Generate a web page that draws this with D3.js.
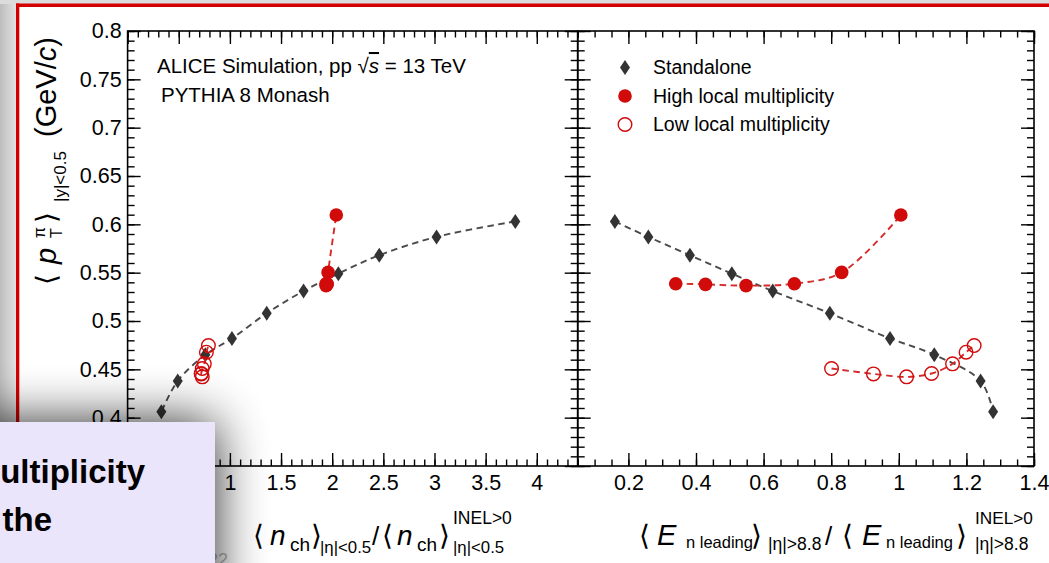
<!DOCTYPE html>
<html><head><meta charset="utf-8">
<script src="https://cdn.jsdelivr.net/npm/d3@7"></script>
<style>
html,body{margin:0;padding:0;background:#fff;}
svg{display:block;font-family:"Liberation Sans",Arial,Helvetica,sans-serif;}
</style></head>
<body><svg id="c" width="1049" height="563"></svg>
<script>
// ---------- data ----------
// Standalone multiplicity classes (highest multiplicity first)
const standaloneNch = [3.79, 3.02, 2.46, 2.06, 1.72, 1.36, 1.02, 0.76, 0.49, 0.33];
const standaloneE   = [0.160, 0.259, 0.382, 0.506, 0.627, 0.796, 0.974, 1.105, 1.242, 1.279];
const standalonePt  = [0.603, 0.587, 0.568, 0.549, 0.531, 0.508, 0.482, 0.465, 0.438, 0.406];
// High local multiplicity
const highNch = [1.94, 1.95, 1.94, 1.95, 1.96, 2.04];
const highE   = [0.340, 0.428, 0.548, 0.691, 0.831, 1.006];
const highPt  = [0.5386, 0.5379, 0.5366, 0.5386, 0.5503, 0.6096];
// Low local multiplicity
const lowNch = [0.73, 0.72, 0.73, 0.72, 0.75, 0.77, 0.79];
const lowE   = [0.801, 0.925, 1.023, 1.097, 1.159, 1.199, 1.223];
const lowPt  = [0.4508, 0.4453, 0.4422, 0.4457, 0.4557, 0.4677, 0.4746];
// axes
const yDomain = [0.35, 0.8];
const xLeftDomain = [0, 4.4];
const xRightDomain = [0.05, 1.4];
const yMajorTicks = [0.35,0.4,0.45,0.5,0.55,0.6,0.65,0.7,0.75,0.8];
const yLabelled = [0.4,0.45,0.5,0.55,0.6,0.65,0.7,0.75,0.8];   // 0.35 lies under the slide text box
const xLeftMajorTicks = [0,0.5,1,1.5,2,2.5,3,3.5,4];
const xLeftLabelled = [1,1.5,2,2.5,3,3.5,4];                    // 0 and 0.5 lie under the text box
const xRightMajorTicks = [0.2,0.4,0.6,0.8,1,1.2,1.4];
const legendLabels = ["Standalone","High local multiplicity","Low local multiplicity"];
const headerLines = ["ALICE Simulation, pp ", "PYTHIA 8 Monash"];

// ---------- layout ----------
const svg = d3.select("#c");
const W = 1049, H = 563;
const yTop = 31, yBot = 466;
const lx0 = 127.6, lx1 = 577.7, rx0 = 577.7, rx1 = 1034;
const DARK = "#333333", RED = "#d10a0a", LINE_RED = "#d42a2a", LINE_GRAY = "#4a4a4a";

const defs = svg.append("defs");
const lg = defs.append("linearGradient").attr("id","lm").attr("x1","0").attr("x2","1").attr("y1","0").attr("y2","0");
lg.append("stop").attr("offset","0").attr("stop-color","#bdbdbd");
lg.append("stop").attr("offset","1").attr("stop-color","#e2e2e2");
const f = defs.append("filter").attr("id","sh").attr("filterUnits","userSpaceOnUse")
  .attr("x",-200).attr("y",300).attr("width",600).attr("height",400);
f.append("feGaussianBlur").attr("in","SourceAlpha").attr("stdDeviation",26).attr("result","b");
f.append("feComponentTransfer").append("feFuncA").attr("type","linear").attr("slope",0.85);
const fm = f.append("feMerge"); fm.append("feMergeNode"); fm.append("feMergeNode").attr("in","SourceGraphic");

// slide background
svg.append("rect").attr("width",W).attr("height",H).attr("fill","#ffffff");
svg.append("rect").attr("x",0).attr("y",0).attr("width",16).attr("height",H).attr("fill","url(#lm)");
svg.append("rect").attr("x",0).attr("y",0).attr("width",W).attr("height",4).attr("fill","#dcdcdc");
svg.append("rect").attr("x",16).attr("y",3.5).attr("width",W).attr("height",3.5).attr("fill","#d40000");
svg.append("rect").attr("x",16).attr("y",3.5).attr("width",3.3).attr("height",H).attr("fill","#d40000");

// scales
const y = d3.scaleLinear().domain(yDomain).range([yBot, yTop]);
const xl = d3.scaleLinear().domain(xLeftDomain).range([lx0, lx1]);
const xr = d3.scaleLinear().domain(xRightDomain).range([rx0, rx1]);

const rng = (a,b,s) => d3.range(Math.round(a/s), Math.round(b/s)+1).map(i => +(i*s).toFixed(3));
const fmt = d => String(+d.toFixed(2));

function axes(g, x, xMaj, xLab, xMin, showY){
  const yMin = rng(yDomain[0], yDomain[1], 0.01);
  const [a,b] = x.range();
  const mk = (gen, tr) => { const gg = g.append("g").attr("transform",tr).call(gen);
      gg.select(".domain").remove(); gg.selectAll("line").attr("stroke","#000").attr("stroke-width",1.4);
      gg.selectAll("text").attr("font-size",21.5).attr("fill","#000").attr("font-family","Liberation Sans, Arial, sans-serif"); return gg; };
  mk(d3.axisLeft(y).tickValues(yMin).tickSize(-7).tickFormat(""), `translate(${a},0)`);
  mk(d3.axisLeft(y).tickValues(yMajorTicks).tickSize(-13).tickFormat(""), `translate(${a},0)`);
  if(showY) mk(d3.axisLeft(y).tickValues(yLabelled).tickSize(0).tickPadding(6).tickFormat(fmt), `translate(${a},0)`);
  mk(d3.axisRight(y).tickValues(yMin).tickSize(-7).tickFormat(""), `translate(${b},0)`);
  mk(d3.axisRight(y).tickValues(yMajorTicks).tickSize(-13).tickFormat(""), `translate(${b},0)`);
  mk(d3.axisBottom(x).tickValues(xMin).tickSize(-6.5).tickFormat(""), `translate(0,${yBot})`);
  mk(d3.axisBottom(x).tickValues(xMaj).tickSize(-13).tickFormat(""), `translate(0,${yBot})`);
  mk(d3.axisBottom(x).tickValues(xLab).tickSize(0).tickPadding(9).tickFormat(fmt), `translate(0,${yBot})`);
  mk(d3.axisTop(x).tickValues(xMin).tickSize(-6.5).tickFormat(""), `translate(0,${yTop})`);
  mk(d3.axisTop(x).tickValues(xMaj).tickSize(-13).tickFormat(""), `translate(0,${yTop})`);
  g.append("rect").attr("x",a).attr("y",yTop).attr("width",b-a).attr("height",yBot-yTop)
    .attr("fill","none").attr("stroke","#000").attr("stroke-width",1.6);
}

const gL = svg.append("g"), gR = svg.append("g");
axes(gL, xl, xLeftMajorTicks, xLeftLabelled, rng(0, 4.4, 0.1), true);
axes(gR, xr, xRightMajorTicks, xRightMajorTicks, rng(0.05, 1.4, 0.05), false);

function series(g, xs, ys, x, kind){
  const pts = xs.map((v,i)=>[x(v), y(ys[i])]);
  const line = d3.line().curve(d3.curveCatmullRom.alpha(0.5));
  g.append("path").attr("d", line(pts)).attr("fill","none")
    .attr("stroke", kind==="sa"?LINE_GRAY:LINE_RED).attr("stroke-width",1.9).attr("stroke-dasharray","6.5,4.5");
  const m = g.append("g");
  pts.forEach(p=>{
    if(kind==="sa") m.append("path").attr("d",`M${p[0]},${p[1]-7.5}L${p[0]+5},${p[1]}L${p[0]},${p[1]+7.5}L${p[0]-5},${p[1]}Z`).attr("fill",DARK);
    else if(kind==="hi") m.append("circle").attr("cx",p[0]).attr("cy",p[1]).attr("r",6.8).attr("fill",RED);
    else m.append("circle").attr("cx",p[0]).attr("cy",p[1]).attr("r",6.8).attr("fill","none").attr("stroke",RED).attr("stroke-width",1.4);
  });
}
series(gL, standaloneNch, standalonePt, xl, "sa");
series(gL, lowNch, lowPt, xl, "lo");
series(gL, highNch, highPt, xl, "hi");
series(gR, standaloneE, standalonePt, xr, "sa");
series(gR, lowE, lowPt, xr, "lo");
series(gR, highE, highPt, xr, "hi");

// header text
const hdr = svg.append("text").attr("x",157).attr("y",73).attr("font-size",20.5).attr("fill","#000");
hdr.append("tspan").text(headerLines[0]);
hdr.append("tspan").text("\u221A");
hdr.append("tspan").text("s").attr("font-style","italic").style("text-decoration","overline");
hdr.append("tspan").text(" = 13 TeV");
svg.append("text").attr("x",161).attr("y",101.5).attr("font-size",20.5).attr("fill","#000").text(headerLines[1]);

// legend
const lgG = svg.append("g");
const lgx = 625, lgy = [67.5, 96, 124.5];
lgG.append("path").attr("d",`M${lgx},${lgy[0]-7.5}L${lgx+5},${lgy[0]}L${lgx},${lgy[0]+7.5}L${lgx-5},${lgy[0]}Z`).attr("fill",DARK);
lgG.append("circle").attr("cx",lgx).attr("cy",lgy[1]).attr("r",6.8).attr("fill",RED);
lgG.append("circle").attr("cx",lgx).attr("cy",lgy[2]).attr("r",6.8).attr("fill","none").attr("stroke",RED).attr("stroke-width",1.4);
legendLabels.forEach((t,i)=> lgG.append("text").attr("x",653).attr("y",lgy[i]+6.8).attr("font-size",19.5).attr("fill","#000").text(t));

// axis titles
function piece(g, t, x, yy, size, italic){
  return g.append("text").attr("x",x).attr("y",yy).attr("font-size",size)
    .attr("font-style", italic?"italic":"normal").attr("fill","#000").text(t);
}
const BL = 545;
const tL = svg.append("g");
piece(tL,"\u27E8",253,BL,28); piece(tL,"n",270,BL,28,true); piece(tL,"ch",290,BL+6,19);
piece(tL,"\u27E9",311,BL,28); piece(tL,"|\u03B7|<0.5",320,BL+8,16.8);
piece(tL,"/",372,BL,26); piece(tL,"\u27E8",382,BL,28); piece(tL,"n",397,BL,28,true); piece(tL,"ch",417,BL+6,19);
piece(tL,"\u27E9",439,BL,28); piece(tL,"INEL>0",453,BL-21,17.5); piece(tL,"|\u03B7|<0.5",453,BL+8,16.8);
const tR = svg.append("g");
piece(tR,"\u27E8",639,BL,28); piece(tR,"E",657,BL,29,true); piece(tR,"n leading",686,BL+3,16.5);
piece(tR,"\u27E9",751,BL,28); piece(tR,"|\u03B7|>8.8",768,BL+5,17.5);
piece(tR,"/",825,BL,26); piece(tR,"\u27E8",842,BL,28); piece(tR,"E",862,BL,29,true); piece(tR,"n leading",886,BL+3,16.5);
piece(tR,"\u27E9",956,BL,28); piece(tR,"INEL>0",975,BL-21,17.2); piece(tR,"|\u03B7|>8.8",975,BL+5,17.5);

// y title (rotated, reads bottom to top)
const tY = svg.append("g").attr("transform","translate(56,0)");
function rpiece(t, ystart, dx, size, italic){
  return tY.append("text").attr("transform",`translate(${dx},${ystart}) rotate(-90)`).attr("font-size",size)
    .attr("font-style", italic?"italic":"normal").attr("fill","#000").text(t);
}
rpiece("\u27E8",285,0,28); rpiece("p",264,0,29,true); rpiece("T",238,6,16); rpiece("\u03C0",238,-11,16);
rpiece("\u27E9",223,0,28); rpiece("|y|<0.5",202,10,17);
const gv = rpiece("",137,0,29);
gv.append("tspan").text("(GeV/"); gv.append("tspan").attr("font-style","italic").text("c"); gv.append("tspan").text(")");

// slide overlay: page number + text box
svg.append("text").attr("x",208).attr("y",566).attr("font-size",18).attr("fill","#b5b5b5").text("22");
const box = svg.append("g");
box.append("rect").attr("x",-40).attr("y",422).attr("width",255).attr("height",200).attr("fill","#ebe5fb").attr("filter","url(#sh)");
box.append("text").attr("x",145).attr("y",483).attr("text-anchor","end").attr("font-size",33).attr("font-weight","bold").attr("fill","#000").text("multiplicity");
box.append("text").attr("x",52).attr("y",531).attr("text-anchor","end").attr("font-size",33).attr("font-weight","bold").attr("fill","#000").text("the");
</script></body></html>
